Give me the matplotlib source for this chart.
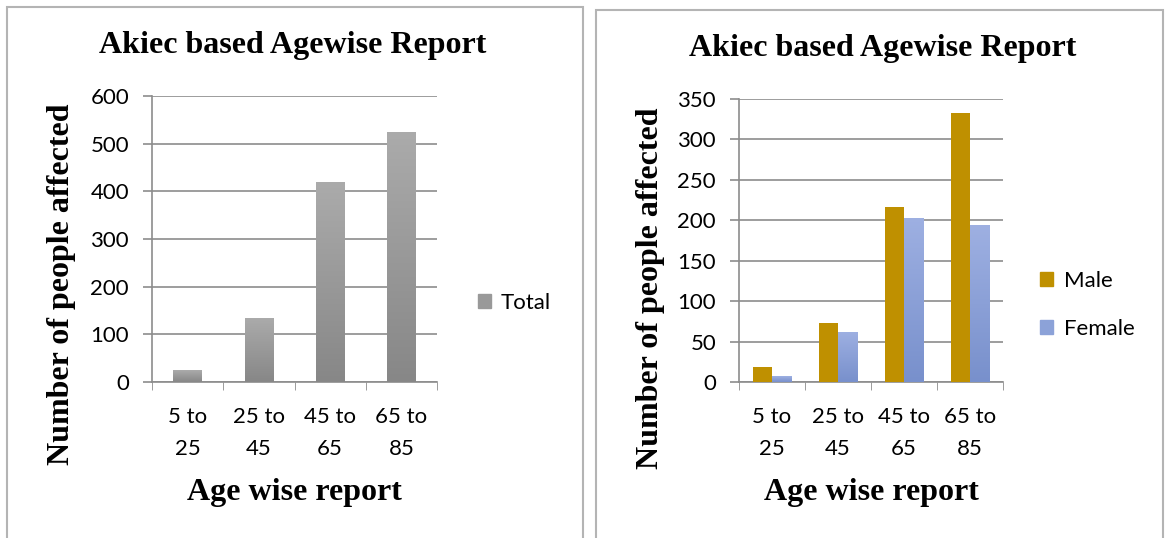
import numpy as np
import matplotlib
matplotlib.use('Agg')
import matplotlib.pyplot as plt
from matplotlib.patches import Rectangle, Patch

age_groups = ['5 to\n25', '25 to\n45', '45 to\n65', '65 to\n85']
total = [25, 135, 419, 525]
male = [18, 73, 217, 333]
female = [7, 62, 203, 194]

W, H = 1166, 538
title_font = dict(family='Liberation Serif', weight='bold')
tick_font = 'Lato'
grid_col = '#8c8c8c'


def fig_rect(x0, y0, x1, y1):
    # pixel box (top-left origin) -> figure fraction [left, bottom, width, height]
    return [x0 / W, 1 - y1 / H, (x1 - x0) / W, (y1 - y0) / H]


def gradient_bars(ax, x, heights, width, top_col, bottom_col):
    bars = ax.bar(x, heights, width, color=bottom_col, zorder=3)
    grad = np.linspace(0, 1, 256).reshape(-1, 1)
    cmap = matplotlib.colors.LinearSegmentedColormap.from_list('g', [bottom_col, top_col])
    for b in bars:
        x0, w, h = b.get_x(), b.get_width(), b.get_height()
        im = ax.imshow(grad, cmap=cmap, origin='lower', aspect='auto',
                       extent=(x0, x0 + w, 0, h), zorder=4)
        im.set_clip_path(b)
    return bars


def style_axes(ax, ymax, ystep, title_x, title_y, ylab_x, ylab_y, xlab_y):
    ax.set_xlim(-0.5, 3.5)
    ax.set_ylim(0, ymax)
    ax.set_yticks(np.arange(0, ymax + 1, ystep))
    ax.set_xticks(range(4))
    ax.set_xticklabels(age_groups, fontfamily=tick_font, fontsize=16, linespacing=1.75)
    ax.set_xticks([-0.5, 0.5, 1.5, 2.5, 3.5], minor=True)
    ax.tick_params(axis='x', which='major', length=0, pad=18)
    ax.tick_params(axis='x', which='minor', length=6, color=grid_col, direction='out')
    ax.tick_params(axis='y', length=6.5, width=1.2, color=grid_col, labelsize=16, pad=10)
    for lab in ax.get_yticklabels():
        lab.set_fontfamily(tick_font)
    ax.yaxis.grid(True, color=grid_col, linewidth=1.2, zorder=0)
    ax.set_axisbelow(True)
    for s in ['top', 'right']:
        ax.spines[s].set_visible(False)
    for s in ['left', 'bottom']:
        ax.spines[s].set_color(grid_col)
        ax.spines[s].set_linewidth(1.2)
    ax.text(title_x, title_y, 'Akiec based Agewise Report', transform=ax.transAxes,
            ha='center', va='center', fontsize=23, **title_font)
    ax.set_xlabel('Age wise report', fontsize=23, **title_font)
    ax.set_ylabel('Number of people affected', fontsize=23, **title_font)
    ax.xaxis.set_label_coords(0.5, xlab_y)
    ax.xaxis.label.set_va('center')
    ax.yaxis.set_label_coords(ylab_x, ylab_y)
    ax.yaxis.label.set_va('center')


fig = plt.figure(figsize=(W / 100, H / 100), dpi=100)

# panel frames
for x0, y0, x1 in [(7, 7, 583), (596, 10, 1163)]:
    fig.patches.append(Rectangle((x0 / W, -0.05), (x1 - x0) / W, 1.05 - y0 / H,
                                 transform=fig.transFigure, fill=False,
                                 edgecolor='#b4b4b4', linewidth=1.5))

x = np.arange(4)
leg_prop = {'family': tick_font, 'size': 16}

ax1 = fig.add_axes(fig_rect(152, 96, 437, 382))
gradient_bars(ax1, x, total, 0.4, '#ababab', '#878787')
style_axes(ax1, 600, 100, 0.495, 1.178, -0.316, 0.343, -0.388)
ax1.legend(handles=[Patch(color='#999999', label='Total')], loc='center left',
           bbox_to_anchor=(478 / W, 1 - 303 / H), bbox_transform=fig.transFigure,
           borderaxespad=0, borderpad=0, frameon=False, handlelength=0.6,
           handleheight=0.6, handletextpad=0.4, prop=leg_prop)

ax2 = fig.add_axes(fig_rect(739, 99, 1003, 382))
bw = 0.29
ax2.bar(x - bw / 2, male, bw, color='#bf9000', zorder=3)
gradient_bars(ax2, x + bw / 2, female, bw, '#9eb0e2', '#7890cc')
style_axes(ax2, 350, 50, 0.545, 1.18, -0.337, 0.332, -0.392)
ax2.legend(handles=[Patch(color='#bf9000', label='Male'),
                    Patch(color='#8ca2d8', label='Female')],
           loc='center left', bbox_to_anchor=(1040 / W, 1 - 305 / H),
           bbox_transform=fig.transFigure, borderaxespad=0, borderpad=0,
           frameon=False, handlelength=0.6, handleheight=0.6, handletextpad=0.5,
           labelspacing=1.25, prop=leg_prop)

fig.savefig('out.png', dpi=100)
